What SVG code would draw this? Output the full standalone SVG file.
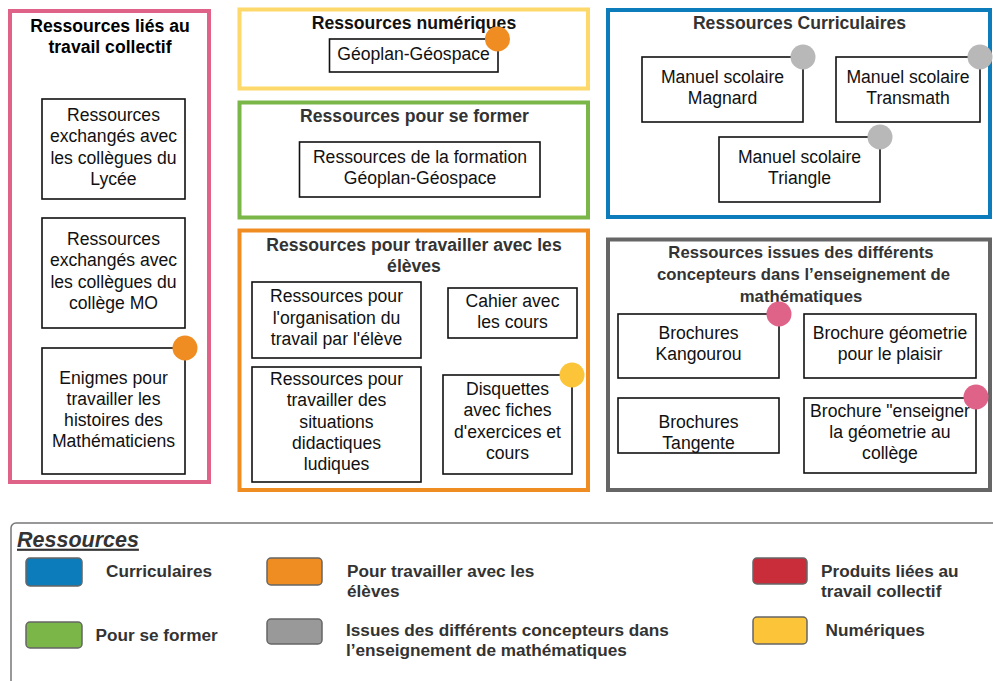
<svg xmlns="http://www.w3.org/2000/svg" width="993" height="681" viewBox="0 0 993 681">
<style>
text{font-family:"Liberation Sans",Arial,sans-serif;}
.t{font-size:17.6px;fill:#111;text-anchor:middle;}
.h{font-size:17.6px;font-weight:bold;fill:#333;text-anchor:middle;}
.l{font-size:17.2px;font-weight:bold;fill:#333;}
.panel{fill:#fff;stroke-width:4;}
.box{fill:#fff;stroke:#111;stroke-width:1.6;}
.sw{stroke:#666;stroke-width:1.5;}
</style>
<rect width="993" height="681" fill="#fff"/>

<g id="panel-collectif">
<rect class="panel" x="10" y="11" width="199" height="471" stroke="#df6389"/>
<text class="h" x="110" y="31.5" style="fill:#000">Ressources liés au</text>
<text class="h" x="110" y="53" style="fill:#000">travail collectif</text>
</g>
<g id="node-lycee">
<rect class="box" x="42" y="99" width="143" height="100"/>
<text class="t" x="113.5" y="120.7">Ressources</text>
<text class="t" x="113.5" y="142.2">exchangés avec</text>
<text class="t" x="113.5" y="163.7">les collègues du</text>
<text class="t" x="113.5" y="185.2">Lycée</text>
</g>
<g id="node-mo">
<rect class="box" x="42" y="218" width="143" height="110"/>
<text class="t" x="113.5" y="244.5">Ressources</text>
<text class="t" x="113.5" y="266">exchangés avec</text>
<text class="t" x="113.5" y="287.5">les collègues du</text>
<text class="t" x="113.5" y="309">collège MO</text>
</g>
<g id="node-enigmes">
<rect class="box" x="42" y="348" width="143" height="126"/>
<text class="t" x="113.5" y="383.5">Enigmes pour</text>
<text class="t" x="113.5" y="404.7">travailler les</text>
<text class="t" x="113.5" y="425.9">histoires des</text>
<text class="t" x="113.5" y="447.1">Mathématiciens</text>
<circle cx="185" cy="348" r="12.5" fill="#ef8d22"/>
</g>

<g id="panel-numeriques">
<rect class="panel" x="239.5" y="9.5" width="348.5" height="79" stroke="#fdd86b"/>
<text class="h" x="414" y="29.3" style="fill:#111">Ressources numériques</text>
</g>
<g id="node-geoplan">
<rect class="box" x="329.5" y="39" width="168.5" height="33"/>
<text class="t" x="413.5" y="59.5">Géoplan-Géospace</text>
<circle cx="497.5" cy="39" r="12.5" fill="#ef8d22"/>
</g>

<g id="panel-former">
<rect class="panel" x="239.5" y="102.5" width="348.5" height="115" stroke="#7ab648"/>
<text class="h" x="414.5" y="121.7">Ressources pour se former</text>
</g>
<g id="node-formation">
<rect class="box" x="299.5" y="142" width="240.5" height="55"/>
<text class="t" x="420" y="162.7">Ressources de la formation</text>
<text class="t" x="420" y="183.5">Géoplan-Géospace</text>
</g>

<g id="panel-eleves">
<rect class="panel" x="239.5" y="230.5" width="348.5" height="259.5" stroke="#ef8d22"/>
<text class="h" x="414" y="251">Ressources pour travailler avec les</text>
<text class="h" x="414" y="272">élèves</text>
</g>
<g id="node-organisation">
<rect class="box" x="252" y="282" width="169" height="76"/>
<text class="t" x="336.5" y="302.3">Ressources pour</text>
<text class="t" x="336.5" y="323.6">l'organisation du</text>
<text class="t" x="336.5" y="344.9">travail par l'élève</text>
</g>
<g id="node-cahier">
<rect class="box" x="448" y="288" width="129" height="50"/>
<text class="t" x="512.5" y="306.7">Cahier avec</text>
<text class="t" x="512.5" y="327.7">les cours</text>
</g>
<g id="node-ludiques">
<rect class="box" x="252" y="367" width="169" height="115"/>
<text class="t" x="336.5" y="385">Ressources pour</text>
<text class="t" x="336.5" y="406.3">travailler des</text>
<text class="t" x="336.5" y="427.6">situations</text>
<text class="t" x="336.5" y="448.9">didactiques</text>
<text class="t" x="336.5" y="470.2">ludiques</text>
</g>
<g id="node-disquettes">
<rect class="box" x="443" y="375" width="129" height="99"/>
<text class="t" x="507.5" y="395">Disquettes</text>
<text class="t" x="507.5" y="416.3">avec fiches</text>
<text class="t" x="507.5" y="437.6">d'exercices et</text>
<text class="t" x="507.5" y="458.9">cours</text>
<circle cx="572" cy="375" r="12.5" fill="#fcc438"/>
</g>

<g id="panel-curriculaires">
<rect class="panel" x="608" y="10" width="382" height="207" stroke="#0c7cba"/>
<text class="h" x="799.5" y="29.3">Ressources Curriculaires</text>
</g>
<g id="node-magnard">
<rect class="box" x="642" y="57" width="161" height="65"/>
<text class="t" x="722.5" y="82.7">Manuel scolaire</text>
<text class="t" x="722.5" y="103.5">Magnard</text>
<circle cx="803" cy="57" r="12.5" fill="#b8b8b8"/>
</g>
<g id="node-transmath">
<rect class="box" x="836" y="57" width="144" height="65"/>
<text class="t" x="908" y="82.7">Manuel scolaire</text>
<text class="t" x="908" y="103.5">Transmath</text>
<circle cx="980" cy="57" r="12.5" fill="#b8b8b8"/>
</g>
<g id="node-triangle">
<rect class="box" x="719" y="137" width="161" height="65"/>
<text class="t" x="799.5" y="162.5">Manuel scolaire</text>
<text class="t" x="799.5" y="183.5">Triangle</text>
<circle cx="880" cy="137" r="12.5" fill="#b8b8b8"/>
</g>

<g id="panel-concepteurs">
<rect class="panel" x="608" y="239.5" width="382" height="250.5" stroke="#666"/>
<text class="h" x="801" y="258.3" style="font-size:16.7px">Ressources issues des différents</text>
<text class="h" x="803.5" y="280" style="font-size:16.7px">concepteurs dans l’enseignement de</text>
<text class="h" x="801" y="301.5" style="font-size:16.7px">mathématiques</text>
</g>
<g id="node-kangourou">
<rect class="box" x="618" y="314" width="161" height="64"/>
<text class="t" x="698.5" y="339">Brochures</text>
<text class="t" x="698.5" y="360">Kangourou</text>
<circle cx="779" cy="314" r="12.5" fill="#df6389"/>
</g>
<g id="node-plaisir">
<rect class="box" x="804" y="314" width="172" height="64"/>
<text class="t" x="890" y="339">Brochure géometrie</text>
<text class="t" x="890" y="360">pour le plaisir</text>
</g>
<g id="node-tangente">
<rect class="box" x="618" y="398" width="161" height="55"/>
<text class="t" x="698.5" y="428.3">Brochures</text>
<text class="t" x="698.5" y="449.3">Tangente</text>
</g>
<g id="node-enseigner">
<rect class="box" x="804" y="398" width="172" height="75"/>
<text class="t" x="890" y="416.7">Brochure "enseigner</text>
<text class="t" x="890" y="438">la géometrie au</text>
<text class="t" x="890" y="459.3">collège</text>
<circle cx="976" cy="397" r="12.5" fill="#df6389"/>
</g>

<g id="connectors"></g>

<g id="legend">
<rect x="11" y="523" width="1000" height="200" rx="5" fill="#fff" stroke="#777" stroke-width="1.5"/>
<text x="17" y="546.7" style="font-size:21.5px;font-weight:bold;font-style:italic;fill:#333;text-decoration:underline">Ressources</text>
<rect class="sw" x="26" y="558" width="56" height="28" rx="4" fill="#0c7cba"/>
<text class="l" x="106" y="576.7">Curriculaires</text>
<rect class="sw" x="26" y="622" width="56" height="26" rx="4" fill="#7ab648"/>
<text class="l" x="95.5" y="641">Pour se former</text>
<rect class="sw" x="267" y="558" width="55" height="27" rx="4" fill="#ef8d22"/>
<text class="l" x="347" y="576.7">Pour travailler avec les</text>
<text class="l" x="347" y="597.3">élèves</text>
<rect class="sw" x="267" y="619" width="55" height="25" rx="4" fill="#999"/>
<text class="l" x="346" y="635.7">Issues des différents concepteurs dans</text>
<text class="l" x="346" y="655.5">l’enseignement de mathématiques</text>
<rect class="sw" x="753" y="558" width="54" height="26" rx="4" fill="#c92d39"/>
<text class="l" x="821" y="576.7">Produits liées au</text>
<text class="l" x="821" y="597.3">travail collectif</text>
<rect class="sw" x="753" y="617" width="54" height="27" rx="4" fill="#fcc438"/>
<text class="l" x="825.5" y="635.7">Numériques</text>
</g>
</svg>
